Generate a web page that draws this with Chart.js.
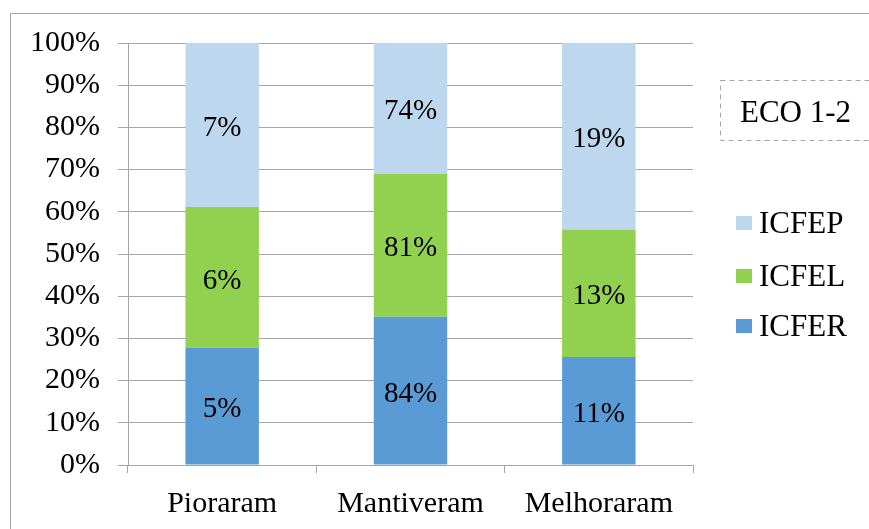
<!DOCTYPE html>
<html>
<head>
<meta charset="utf-8">
<script src="https://cdn.jsdelivr.net/npm/chart.js@4/dist/chart.umd.min.js"></script>
<style>
  html, body { margin: 0; padding: 0; background: #fff; }
  #wrap { position: relative; width: 869px; height: 529px; }
  #frame { position: absolute; left: 10px; top: 13px; width: 880px; height: 540px; border: 1px solid #a6a6a6; box-sizing: border-box; }
</style>
</head>
<body>
<div id="wrap">
  <div id="frame"></div>
  <canvas id="eco-chart" width="869" height="529"></canvas>
</div>
<script>
var categories = ['Pioraram', 'Mantiveram', 'Melhoraram'];
var icfer = [5, 84, 11];
var icfel = [6, 81, 13];
var icfep = [7, 74, 19];
var yTicks = [0, 10, 20, 30, 40, 50, 60, 70, 80, 90, 100];
var chartTitle = 'ECO 1-2';

var serif = '"Liberation Serif", "Times New Roman", serif';

// 100% stacked: each segment is its share of the column total
function share(series) {
  return series.map(function(v, i) {
    return v / (icfer[i] + icfel[i] + icfep[i]) * 100;
  });
}

var series = [
  { label: 'ICFER', raw: icfer, color: '#5b9bd5' },
  { label: 'ICFEL', raw: icfel, color: '#92d050' },
  { label: 'ICFEP', raw: icfep, color: '#bdd7ee' }
];

var datasets = series.map(function(s) {
  return {
    label: s.label,
    data: share(s.raw),
    raw: s.raw,
    backgroundColor: s.color,
    categoryPercentage: 1,
    barPercentage: 0.39
  };
});

// raw values written in the middle of each segment
var segmentLabels = {
  id: 'segmentLabels',
  afterDatasetsDraw: function(chart) {
    var ctx = chart.ctx;
    var size = 29;
    ctx.save();
    ctx.font = size + 'px ' + serif;
    ctx.fillStyle = '#000';
    ctx.textAlign = 'center';
    ctx.textBaseline = 'alphabetic';
    chart.data.datasets.forEach(function(ds, di) {
      chart.getDatasetMeta(di).data.forEach(function(bar, i) {
        var mid = (bar.y + bar.base) / 2;
        ctx.fillText(ds.raw[i] + '%', bar.x, mid + size * 0.33 + 1.5);
      });
    });
    ctx.restore();
  }
};

// legend on the right (reversed) and the dashed title box
var sideBox = {
  id: 'sideBox',
  afterDraw: function(chart) {
    var ctx = chart.ctx;
    var size = 31;
    ctx.save();
    ctx.strokeStyle = '#a6a6a6';
    ctx.lineWidth = 1;
    ctx.setLineDash([5, 4]);
    ctx.strokeRect(720.5, 80.5, 170, 60);
    ctx.setLineDash([]);
    ctx.fillStyle = '#000';
    ctx.font = size + 'px ' + serif;
    ctx.textBaseline = 'alphabetic';
    ctx.fillText(chartTitle, 740, 112 + size * 0.33);

    var ys = [223, 276, 326];
    var order = chart.data.datasets.slice().reverse();
    order.forEach(function(ds, i) {
      ctx.fillStyle = ds.backgroundColor;
      ctx.fillRect(736, ys[i] - 7, 16, 14);
      ctx.fillStyle = '#000';
      ctx.fillText(ds.label, 759, ys[i] + size * 0.33);
    });
    ctx.restore();
  }
};

var ctx = document.getElementById('eco-chart');

var ecoChart = new Chart(ctx, {
  type: 'bar',
  data: { labels: categories, datasets: datasets },
  plugins: [segmentLabels, sideBox],
  options: {
    responsive: false,
    animation: false,
    layout: { padding: { top: 43, right: 176, left: 0, bottom: 0 } },
    plugins: {
      legend: { display: false },
      tooltip: { enabled: false }
    },
    scales: {
      x: {
        stacked: true,
        afterFit: function(scale) { scale.height = 64; },
        grid: {
          offset: true,
          drawOnChartArea: false,
          tickLength: 8,
          color: '#a6a6a6'
        },
        border: { color: '#a6a6a6' },
        ticks: {
          color: '#000',
          padding: 13,
          font: { family: serif, size: 30 }
        }
      },
      y: {
        stacked: true,
        min: 0,
        max: 100,
        afterFit: function(scale) { scale.width = 128; },
        afterBuildTicks: function(scale) {
          scale.ticks = yTicks.map(function(v) { return { value: v }; });
        },
        grid: { color: '#a6a6a6', tickLength: 10 },
        border: { color: '#a6a6a6' },
        ticks: {
          color: '#000',
          padding: 18,
          font: { family: serif, size: 30 },
          callback: function(v) { return v + '%'; }
        }
      }
    }
  }
});
</script>
</body>
</html>
